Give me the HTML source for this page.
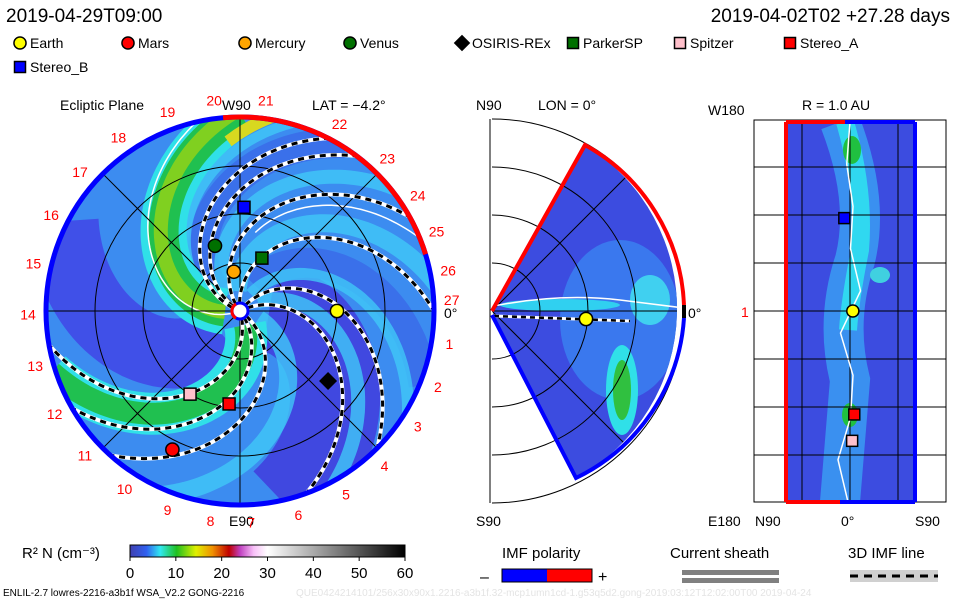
<!DOCTYPE html>
<html><head><meta charset="utf-8"><style>
html,body{margin:0;padding:0;background:#fff;}
svg{display:block;font-family:"Liberation Sans",sans-serif;}
</style></head><body>
<svg id="chart" width="960" height="600" viewBox="0 0 960 600" xmlns="http://www.w3.org/2000/svg">
<defs>
<clipPath id="clipCircle"><circle cx="240" cy="311" r="194"/></clipPath>
<clipPath id="clipWedge"><path d="M492,311 L585,145 A192,192 0 0 1 576,478 Z"/></clipPath>
<clipPath id="clipRect"><rect x="786" y="122" width="129" height="380"/></clipPath>
<linearGradient id="cbar" x1="0" x2="1" y1="0" y2="0">
<stop offset="0" stop-color="#4040b0"/><stop offset="0.06" stop-color="#3060f0"/><stop offset="0.11" stop-color="#30e8f0"/>
<stop offset="0.17" stop-color="#20c020"/><stop offset="0.24" stop-color="#e0f000"/><stop offset="0.3" stop-color="#f09000"/>
<stop offset="0.36" stop-color="#c00000"/><stop offset="0.4" stop-color="#c040c0"/><stop offset="0.45" stop-color="#f8c0f8"/>
<stop offset="0.5" stop-color="#ffffff"/><stop offset="1" stop-color="#000000"/></linearGradient>
</defs>
<g id="header" font-size="19" fill="#000">
<text x="6" y="22">2019-04-29T09:00</text>
<text x="950" y="22" text-anchor="end">2019-04-02T02 +27.28 days</text>
</g>
<g id="legend" font-size="14"></g>
<g id="ecliptic"></g>
<g id="meridian"></g>
<g id="shell"></g>
<g id="footer"></g>
</svg>
<script>
const NS="http://www.w3.org/2000/svg";
// ---- data ----
const legendNames=["Earth","Mars","Mercury","Venus","OSIRIS-REx","ParkerSP","Spitzer","Stereo_A","Stereo_B"];
const legendColors=["#ffff00","#ff0000","#ffa500","#007000","#000000","#007000","#ffc0cb","#ff0000","#0000ff"];
const legendShapes=["c","c","c","c","d","s","s","s","s"];
const bodyR=[1.0,1.59,0.41,0.72,1.16,0.59,1.0,0.965,1.07];      // AU
const bodyLon=[0,-116,99,111,-38.5,67.5,-121,-96.7,87.8];       // deg
const dashedOuterAngles=[70,45,0,-29,-53,-63,170,150,132];      // screen deg at 2 AU
const colorbarTicks=[0,10,20,30,40,50,60];
const dayLabels=["20","21","22","23","24","25","26","27","1","2","3","4","5","6","7","8","9","10","11","12","13","14","15","16","17","18","19"];
const dayAngles=[-97,-83,-62,-46,-33,-22,-11,-3,9,21,33,47,60,74,87,98,110,123,137,151,165,179,193,207,221,235,250];
const shellLat=[0.8,-0.5,2,1,5,-3,2,1,-4,0];
const shellBodyNames=["Stereo_B","Earth","Stereo_A","Spitzer"];
const shellBodyLon=[88,0,-98,-123];
const shellBodyLat=[-8,4,6,3];
// ---- helpers ----
function el(tag,attrs,parent){const e=document.createElementNS(NS,tag);for(const k in attrs)e.setAttribute(k,attrs[k]);if(parent)parent.appendChild(e);return e;}
const CX=240,CY=311,RMAX=194,PXAU=97,K=0.5;
function spiral(outerDeg,rmin){let d="";for(let r=rmin;r<=RMAX+6;r+=3){const a=(outerDeg-K*(RMAX-r))*Math.PI/180;d+=(d?"L":"M")+(CX+r*Math.cos(a)).toFixed(1)+","+(CY+r*Math.sin(a)).toFixed(1);}return d;}
function marker(g,shape,x,y,color,s){
  if(shape==="c")return el("circle",{cx:x,cy:y,r:s*0.55,fill:color,stroke:"#000","stroke-width":1.5},g);
  if(shape==="s")return el("rect",{x:x-s/2,y:y-s/2,width:s,height:s,fill:color,stroke:"#000","stroke-width":1.5},g);
  return el("path",{d:`M${x},${y-s*0.75}L${x+s*0.75},${y}L${x},${y+s*0.75}L${x-s*0.75},${y}Z`,fill:color},g);
}
// ---- legend ----
const lg=document.getElementById("legend");
const lgX=[20,128,245,350,462,573,680,790,20],lgY=[48,48,48,48,48,48,48,48,72];
legendNames.forEach((n,i)=>{
  const g=el("g",{},lg);
  
  
  marker(g,legendShapes[i],lgX[i],lgY[i]-5,legendColors[i],11);
  const t=el("text",{x:lgX[i]+10,y:lgY[i]},g);t.textContent=n;
});
// ---- ecliptic panel ----
const ec=document.getElementById("ecliptic");
let t;
t=el("text",{x:60,y:110,"font-size":14},ec);t.textContent="Ecliptic Plane";
t=el("text",{x:222,y:110,"font-size":14},ec);t.textContent="W90";
t=el("text",{x:312,y:110,"font-size":14},ec);t.textContent="LAT = −4.2°";
t=el("text",{x:229,y:526,"font-size":14},ec);t.textContent="E90";
t=el("text",{x:444,y:318,"font-size":14},ec);t.textContent="0°";
const bg=el("g",{"clip-path":"url(#clipCircle)"},ec);
el("circle",{cx:CX,cy:CY,r:RMAX,fill:"#3c8cf0"},bg);
[[75,90,"#4048e0"],[205,70,"#4050e8"],[20,30,"#3a70ea"],[-60,30,"#3a70ea"]].forEach(b=>el("path",{d:spiral(b[0],30),stroke:b[2],"stroke-width":b[1],fill:"none"},bg));
[[-10,18],[-40,14],[110,18],[30,12],[-75,10],[60,14]].forEach(b=>el("path",{d:spiral(b[0],20),stroke:"#40c8f8","stroke-width":b[1],fill:"none",opacity:0.8},bg));
[[-92,"#30e0e8",46],[-92,"#20c050",30],[-94,"#80d020",14],[160,"#30e0e8",42],[160,"#20c050",22]].forEach(b=>el("path",{d:spiral(b[0],15),stroke:b[1],"stroke-width":b[2],fill:"none"},bg));
el("path",{d:spiral(-82,170),stroke:"#d8d820","stroke-width":12,fill:"none"},bg);
el("path",{d:spiral(-103,5),stroke:"#fff","stroke-width":1.5,fill:"none"},bg);
el("path",{d:spiral(-22,80),stroke:"#fff","stroke-width":1.5,fill:"none"},bg);
[48,97,145].forEach(r=>el("circle",{cx:CX,cy:CY,r:r,fill:"none",stroke:"#000","stroke-width":1},bg));
for(let a=0;a<180;a+=45){const ra=a*Math.PI/180;el("line",{x1:CX-RMAX*Math.cos(ra),y1:CY-RMAX*Math.sin(ra),x2:CX+RMAX*Math.cos(ra),y2:CY+RMAX*Math.sin(ra),stroke:"#000","stroke-width":1},bg);}
dashedOuterAngles.forEach((a,i)=>{
  const p1=el("path",{d:spiral(a,8),stroke:"#fff","stroke-width":4,fill:"none"},bg);
  
  
  el("path",{d:spiral(a,8),stroke:"#000","stroke-width":3,"stroke-dasharray":"6,5",fill:"none"},bg);
});
el("circle",{cx:CX,cy:CY,r:RMAX,fill:"none",stroke:"#0000ff","stroke-width":5},ec);
(function(){const a1=-95*Math.PI/180,a2=-17*Math.PI/180;el("path",{d:`M${CX+RMAX*Math.cos(a1)},${CY+RMAX*Math.sin(a1)} A${RMAX},${RMAX} 0 0 1 ${CX+RMAX*Math.cos(a2)},${CY+RMAX*Math.sin(a2)}`,fill:"none",stroke:"#ff0000","stroke-width":5},ec);})();
el("circle",{cx:CX,cy:CY,r:8,fill:"#fff",stroke:"#0000ff","stroke-width":3},ec);
el("path",{d:`M${CX-4},${CY-7} A8,8 0 0 0 ${CX-4},${CY+7}`,fill:"none",stroke:"#ff0000","stroke-width":3},ec);
dayLabels.forEach((d,i)=>{const a=dayAngles[i]*Math.PI/180;const tx=el("text",{x:CX+212*Math.cos(a),y:CY+212*Math.sin(a)+5,"font-size":14,fill:"#ff0000","text-anchor":"middle"},ec);tx.textContent=d;
  });
legendNames.forEach((n,i)=>{const a=-bodyLon[i]*Math.PI/180;const m=marker(ec,legendShapes[i],CX+bodyR[i]*PXAU*Math.cos(a),CY+bodyR[i]*PXAU*Math.sin(a),legendColors[i],12);
  });
// ---- meridional panel ----
const me=document.getElementById("meridian");
const MX=492,MY=311;
t=el("text",{x:476,y:110,"font-size":14},me);t.textContent="N90";
t=el("text",{x:538,y:110,"font-size":14},me);t.textContent="LON = 0°";
t=el("text",{x:476,y:526,"font-size":14},me);t.textContent="S90";
t=el("text",{x:688,y:318,"font-size":14},me);t.textContent="0°";
el("line",{x1:490,y1:119,x2:490,y2:503,stroke:"#000"},me);
const wg=el("g",{"clip-path":"url(#clipWedge)"},me);
el("rect",{x:480,y:130,width:220,height:360,fill:"#3c4ce0"},wg);
el("ellipse",{cx:620,cy:320,rx:60,ry:80,fill:"#3a78ee"},wg);
el("ellipse",{cx:650,cy:300,rx:20,ry:25,fill:"#40d0f0"},wg);
el("ellipse",{cx:622,cy:390,rx:16,ry:45,fill:"#30e0e8"},wg);
el("ellipse",{cx:622,cy:390,rx:9,ry:30,fill:"#30c040"},wg);
el("ellipse",{cx:560,cy:305,rx:60,ry:6,fill:"#30d0f0"},wg);
[48,96,144].forEach(r=>el("path",{d:`M${MX},${MY-r} A${r},${r} 0 0 1 ${MX},${MY+r}`,fill:"none",stroke:"#000"},me));
el("path",{d:`M${MX},${MY-192} A192,192 0 0 1 ${MX},${MY+192}`,fill:"none",stroke:"#000"},me);
[-45,0,45].forEach(a=>{const ra=a*Math.PI/180;el("line",{x1:MX,y1:MY,x2:MX+192*Math.cos(ra),y2:MY+192*Math.sin(ra),stroke:"#000"},wg);});
el("path",{d:"M494,306 Q560,293 620,300 L684,308",fill:"none",stroke:"#fff","stroke-width":1.5},wg);
el("path",{d:"M494,316 L630,321",fill:"none",stroke:"#fff","stroke-width":3},me);
el("path",{d:"M494,316 L630,321",fill:"none",stroke:"#000","stroke-width":2.5,"stroke-dasharray":"5,4"},me);
el("path",{d:"M492,311 L585,145 A192,192 0 0 1 684,305",fill:"none",stroke:"#ff0000","stroke-width":4},me);
el("path",{d:"M684,318 A192,192 0 0 1 576,478 L492,315",fill:"none",stroke:"#0000ff","stroke-width":4},me);
el("rect",{x:682,y:305,width:4,height:13,fill:"#000"},me);
const em=marker(me,"c",586,319,"#ffff00",12);
// ---- shell panel ----
const sh=document.getElementById("shell");
t=el("text",{x:802,y:110,"font-size":14},sh);t.textContent="R = 1.0 AU";
t=el("text",{x:708,y:115,"font-size":14},sh);t.textContent="W180";
t=el("text",{x:708,y:526,"font-size":14},sh);t.textContent="E180";
t=el("text",{x:755,y:526,"font-size":14},sh);t.textContent="N90";
t=el("text",{x:841,y:526,"font-size":14},sh);t.textContent="0°";
t=el("text",{x:915,y:526,"font-size":14},sh);t.textContent="S90";
t=el("text",{x:741,y:317,"font-size":14,fill:"#ff0000"},sh);t.textContent="1";
el("rect",{x:754,y:120,width:192,height:382,fill:"none",stroke:"#000"},sh);
const sg=el("g",{"clip-path":"url(#clipRect)"},sh);
el("rect",{x:786,y:122,width:129,height:380,fill:"#3c4ce0"},sg);
el("path",{d:"M840,122 Q870,200 855,260 Q835,320 850,380 Q845,440 840,502",fill:"none",stroke:"#3a90f0","stroke-width":40},sg);
el("path",{d:"M845,122 Q865,190 860,250 Q850,300 848,330",fill:"none",stroke:"#30d8f0","stroke-width":18},sg);
el("ellipse",{cx:852,cy:150,rx:9,ry:14,fill:"#20c040"},sg);
el("ellipse",{cx:880,cy:275,rx:10,ry:8,fill:"#40d0e0"},sg);
el("ellipse",{cx:850,cy:415,rx:8,ry:12,fill:"#20c040"},sg);
for(let y=167;y<=455;y+=48)el("line",{x1:754,y1:y,x2:946,y2:y,stroke:"#000"},sh);
[802,850,898].forEach(x=>el("line",{x1:x,y1:122,x2:x,y2:502,stroke:"#000"},sg));
(function(){let d="";shellLat.forEach((v,i)=>{const y=122+i*380/(shellLat.length-1);d+=(i?"L":"M")+(848+v*2.5)+","+y;});el("path",{d:d,fill:"none",stroke:"#fff","stroke-width":1.5},sg);})();
el("line",{x1:786,y1:122,x2:786,y2:502,stroke:"#ff0000","stroke-width":4},sh);
el("line",{x1:786,y1:122,x2:845,y2:122,stroke:"#ff0000","stroke-width":4},sh);
el("line",{x1:786,y1:502,x2:840,y2:502,stroke:"#ff0000","stroke-width":4},sh);
el("line",{x1:845,y1:122,x2:915,y2:122,stroke:"#0000ff","stroke-width":4},sh);
el("line",{x1:840,y1:502,x2:915,y2:502,stroke:"#0000ff","stroke-width":4},sh);
el("line",{x1:915,y1:122,x2:915,y2:502,stroke:"#0000ff","stroke-width":4},sh);
shellBodyNames.forEach((n,i)=>{const idx=legendNames.indexOf(n);const y=311-shellBodyLon[i]*(190/180);const x=850+shellBodyLat[i]*(64/90);
  const m=marker(sh,legendShapes[idx],x,y,legendColors[idx],11);});
// ---- footer ----
const ft=document.getElementById("footer");
t=el("text",{x:22,y:558,"font-size":15},ft);t.textContent="R² N (cm⁻³)";
const cb=el("rect",{x:130,y:545,width:275,height:12,fill:"url(#cbar)",stroke:"#000"},ft);

colorbarTicks.forEach(v=>{const x=130+v/60*275;el("line",{x1:x,y1:557,x2:x,y2:561,stroke:"#000"},ft);const tx=el("text",{x:x,y:578,"font-size":15,"text-anchor":"middle"},ft);tx.textContent=v;
  });
t=el("text",{x:3,y:596,"font-size":10},ft);t.textContent="ENLIL-2.7 lowres-2216-a3b1f WSA_V2.2 GONG-2216";
t=el("text",{x:296,y:596,"font-size":10,fill:"#e4e4e4"},ft);t.textContent="QUE0424214101/256x30x90x1.2216-a3b1f.32-mcp1umn1cd-1.g53q5d2.gong-2019:03:12T12:02:00T00   2019-04-24";
t=el("text",{x:502,y:558,"font-size":15},ft);t.textContent="IMF polarity";
t=el("text",{x:480,y:582,"font-size":16},ft);t.textContent="–";
el("rect",{x:502,y:569,width:45,height:13,fill:"#0000ff"},ft);
el("rect",{x:547,y:569,width:45,height:13,fill:"#ff0000"},ft);
el("rect",{x:502,y:569,width:90,height:13,fill:"none",stroke:"#000"},ft);
t=el("text",{x:598,y:582,"font-size":16},ft);t.textContent="+";
t=el("text",{x:670,y:558,"font-size":15},ft);t.textContent="Current sheath";
el("rect",{x:682,y:570,width:97,height:5,fill:"#808080"},ft);
el("rect",{x:682,y:578,width:97,height:5,fill:"#808080"},ft);
t=el("text",{x:848,y:558,"font-size":15},ft);t.textContent="3D IMF line";
el("rect",{x:850,y:570,width:88,height:12,fill:"#d0d0d0"},ft);
el("line",{x1:850,y1:576,x2:938,y2:576,stroke:"#000","stroke-width":3,"stroke-dasharray":"8,6"},ft);
</script>
</body></html>
